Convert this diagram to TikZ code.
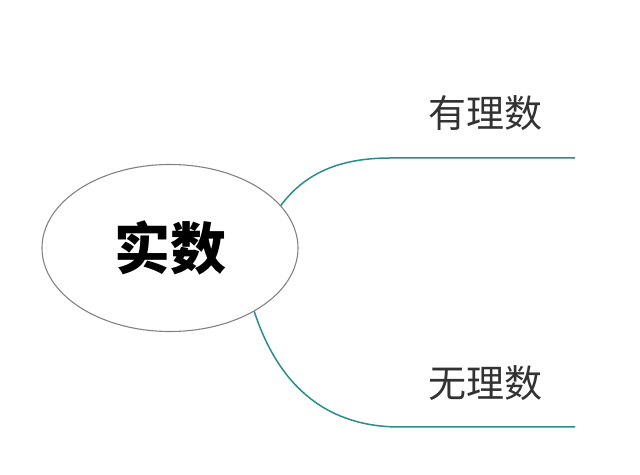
\documentclass[tikz,border=0pt]{standalone}
\usepackage{fontspec}
\newfontfamily\cjk{Noto Sans CJK SC}
\usetikzlibrary{shapes.geometric}
\definecolor{branch}{RGB}{42,140,140}
\definecolor{labelgray}{RGB}{50,50,50}
\definecolor{rimgray}{RGB}{130,130,130}
\tikzset{
  centre/.style={ellipse,draw=rimgray,line width=1.1pt,minimum width=256pt,minimum height=167pt,inner sep=0pt,font=\cjk\bfseries\fontsize{56}{60}\selectfont},
  leaf/.style={inner sep=0pt,text=labelgray,font=\cjk\fontsize{38}{42}\selectfont},
  conn/.style={draw=branch,line width=1.5pt}
}
\begin{document}
\begin{tikzpicture}[x=1pt,y=1pt]
\useasboundingbox (0,0) rectangle (640,474);
\node[centre] (root) at (170,226) {实数};
\node[leaf] (q) at (485,361) {有理数};
\node[leaf] (ir) at (485,91) {无理数};
\coordinate (qend) at (575,316);
\coordinate (irend) at (575,47);
\draw[conn] (root.21.7) .. controls (300,294) and (330,316) .. (390,316) -- (qend);
\draw[conn] (root.-37.6) .. controls (280,84) and (330,47) .. (400,47) -- (irend);
\end{tikzpicture}
\end{document}
